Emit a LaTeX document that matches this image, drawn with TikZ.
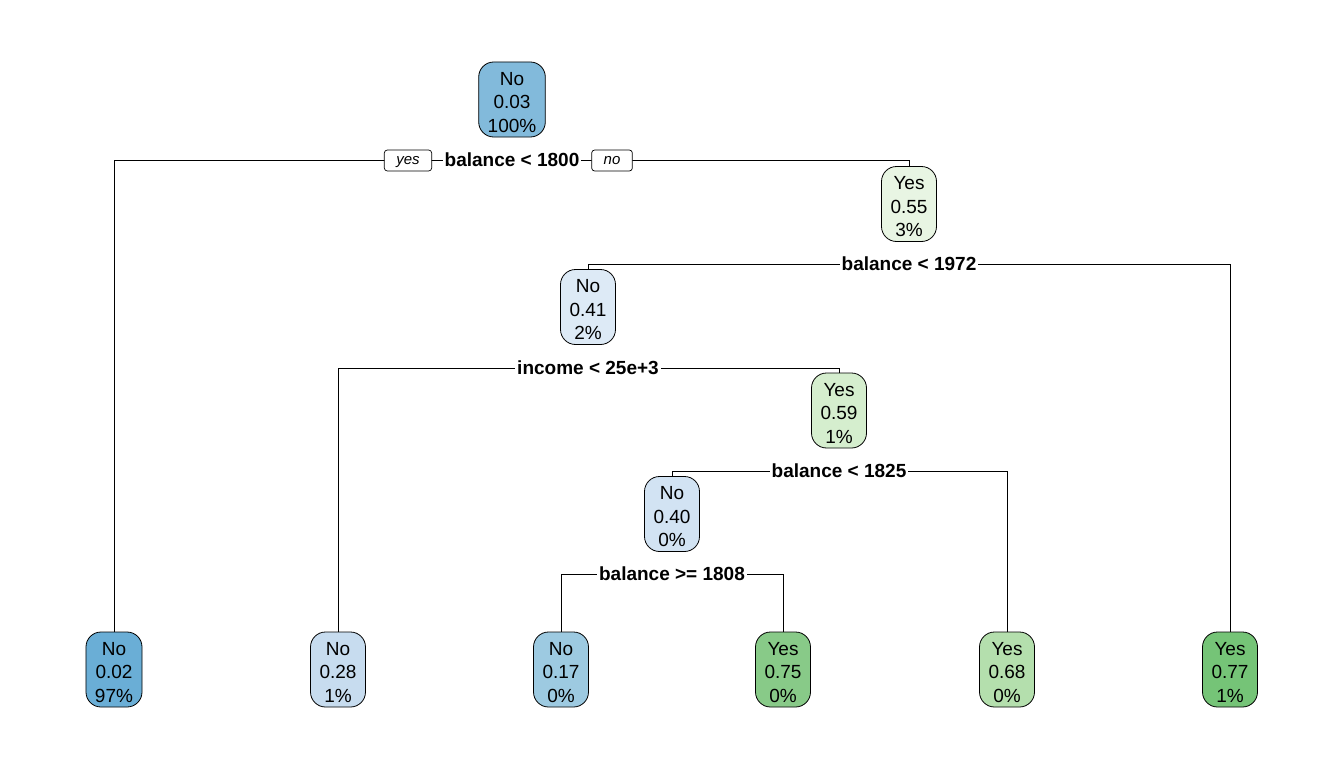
\documentclass[tikz,border=0pt]{standalone}
\usepackage{fontspec}
\setmainfont{Liberation Sans}
\usetikzlibrary{backgrounds}
\definecolor{cRoot}{HTML}{82BADB}
\definecolor{cN2}{HTML}{E8F5E3}
\definecolor{cN3}{HTML}{DDEAF6}
\definecolor{cN4}{HTML}{D5EECE}
\definecolor{cN5}{HTML}{D2E3F3}
\definecolor{cL1}{HTML}{6AAED6}
\definecolor{cL2}{HTML}{C7DCEF}
\definecolor{cL3}{HTML}{9DCAE1}
\definecolor{cL4}{HTML}{88CA88}
\definecolor{cL5}{HTML}{B4DFAD}
\definecolor{cL6}{HTML}{75C477}
\tikzset{
  tnode/.style={draw=black, line width=0.8pt, rounded corners=15pt, inner xsep=9pt, inner ysep=0pt,
    text height=65.5pt, text depth=0pt, minimum height=75pt, align=center,
    font=\fontsize{19}{23.5}\selectfont},
  splitlbl/.style={fill=white, inner xsep=2pt, inner ysep=1pt, font=\fontsize{19}{23}\selectfont\bfseries},
  yn/.style={draw=black, fill=white, line width=0.7pt, rounded corners=3pt, inner xsep=12pt,
    inner ysep=0pt, text height=11pt, text depth=3.5pt, minimum height=21pt,
    font=\fontsize{15}{18}\selectfont\itshape},
  edge/.style={draw=black, line width=0.8pt}
}
\begin{document}
\begin{tikzpicture}[x=1pt,y=-1pt]
\useasboundingbox (0,0) rectangle (1344,768);
% internal nodes
\node[tnode, fill=cRoot] (root) at (512,99.5) {No\\0.03\\100\%};
\node[tnode, fill=cN2] (n2) at (909,204) {Yes\\0.55\\3\%};
\node[tnode, fill=cN3] (n3) at (588,307) {No\\0.41\\2\%};
\node[tnode, fill=cN4] (n4) at (839,410.5) {Yes\\0.59\\1\%};
\node[tnode, fill=cN5] (n5) at (672,514) {No\\0.40\\0\%};
% leaves
\node[tnode, fill=cL1] (l1) at (114,669.5) {No\\0.02\\97\%};
\node[tnode, fill=cL2] (l2) at (338,669.5) {No\\0.28\\1\%};
\node[tnode, fill=cL3] (l3) at (561,669.5) {No\\0.17\\0\%};
\node[tnode, fill=cL4] (l4) at (783,669.5) {Yes\\0.75\\0\%};
\node[tnode, fill=cL5] (l5) at (1007,669.5) {Yes\\0.68\\0\%};
\node[tnode, fill=cL6] (l6) at (1230,669.5) {Yes\\0.77\\1\%};
% split labels
\node[splitlbl] (s1) at (512,160) {balance < 1800};
\node[yn] (yes1) at (408,160.5) {yes};
\node[yn] (no1) at (612,160.5) {no};
\node[splitlbl] (s2) at (909,264) {balance < 1972};
\node[splitlbl] (s3) at (588,368) {income < 25e+3};
\node[splitlbl] (s4) at (839,471) {balance < 1825};
\node[splitlbl] (s5) at (672,574) {balance >= 1808};
% connectors
\begin{scope}[on background layer]
\draw[edge] (s1.center) -| (l1.north);
\draw[edge] (s1.center) -| (n2.north);
\draw[edge] (s2.center) -| (n3.north);
\draw[edge] (s2.center) -| (l6.north);
\draw[edge] (s3.center) -| (l2.north);
\draw[edge] (s3.center) -| (n4.north);
\draw[edge] (s4.center) -| (n5.north);
\draw[edge] (s4.center) -| (l5.north);
\draw[edge] (s5.center) -| (l3.north);
\draw[edge] (s5.center) -| (l4.north);
\end{scope}
\end{tikzpicture}
\end{document}
